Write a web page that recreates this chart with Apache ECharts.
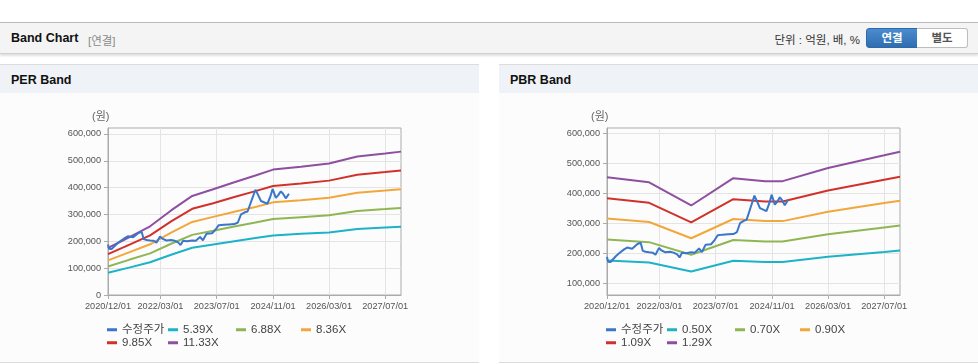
<!DOCTYPE html>
<html>
<head>
<meta charset="utf-8">
<script src="https://cdn.jsdelivr.net/npm/echarts@6/dist/echarts.min.js"></script>
<style>
  html, body { margin: 0; padding: 0; background: #fff; }
  body { width: 978px; height: 364px; position: relative; overflow: hidden;
         font-family: "Liberation Sans", "Noto Sans CJK KR", sans-serif; }
  .topbar { position: absolute; left: 0; top: 22px; width: 978px; height: 30px;
            background: #f4f4f4; border-top: 1px solid #b9b9b9; border-bottom: 1px solid #cfcfcf;
            box-shadow: 0 2px 2px rgba(0,0,0,0.12); }
  .topbar .title { position: absolute; left: 11px; top: 8px; font-size: 12.5px; font-weight: bold; color: #111; }
  .topbar .sub { position: absolute; left: 88px; top: 9px; font-size: 11.5px; color: #8a8a8a; }
  .topbar .unit { position: absolute; right: 118px; top: 8px; font-size: 11.5px; color: #333; }
  .btn { position: absolute; top: 5px; height: 18px; width: 50px; font-size: 11.5px; font-weight: bold;
         text-align: center; line-height: 18px; }
  .btn.on { left: 866px; background: linear-gradient(#4a8ccf, #2f6db0); color: #fff;
            border: 1px solid #2d69a8; border-radius: 3px 0 0 3px; width: 50px; }
  .btn.off { left: 917px; background: #fff; color: #555; border: 1px solid #bdbdbd;
             border-left: none; border-radius: 0 3px 3px 0; }
  .panel { position: absolute; top: 64px; width: 479px; height: 297px; background: #fcfcfc;
           border-top: 1px solid #dcdcdc; border-bottom: 1px solid #dcdcdc; }
  .panel .head { height: 28px; background: #eff2f7; font-size: 12.5px; font-weight: bold; color: #111;
                 line-height: 30px; padding-left: 11px; }
  .panel .chart { position: absolute; left: 0; top: 28px; width: 479px; height: 269px; }
</style>
</head>
<body>
<div class="topbar">
  <div class="title">Band Chart</div>
  <div class="sub">[연결]</div>
  <div class="unit">단위 : 억원, 배, %</div>
  <div class="btn on">연결</div>
  <div class="btn off">별도</div>
</div>
<div class="panel" style="left:0">
  <div class="head">PER Band</div>
  <div class="chart" id="per"></div>
</div>
<div class="panel" style="left:499px">
  <div class="head">PBR Band</div>
  <div class="chart" id="pbr"></div>
</div>
<script>
// 수정주가 (원)
const priceDates = [
  '2020-12-01', '2020-12-10', '2021-01-01', '2021-01-16', '2021-02-15', '2021-03-16',
  '2021-04-28', '2021-05-25', '2021-07-07', '2021-08-22', '2021-09-19', '2021-10-07',
  '2021-11-01', '2021-12-01', '2022-01-01', '2022-01-25', '2022-02-07', '2022-02-25',
  '2022-03-16', '2022-04-22', '2022-06-01', '2022-07-01', '2022-08-01', '2022-08-22',
  '2022-09-13', '2022-10-16', '2022-12-01', '2023-01-01', '2023-02-07', '2023-03-04',
  '2023-04-04', '2023-05-22', '2023-06-22', '2023-07-19', '2023-09-01', '2023-10-16',
  '2023-12-01', '2024-01-01', '2024-01-28', '2024-03-01', '2024-03-25', '2024-04-07',
  '2024-05-01', '2024-06-01', '2024-06-25', '2024-07-19', '2024-09-13', '2024-10-07',
  '2024-10-28', '2024-11-25', '2024-12-13', '2025-01-07', '2025-01-25', '2025-02-19',
  '2025-03-19'
]
const priceValues = [
  188000, 172000, 171000, 174000, 190000, 200000,
  213000, 219000, 215000, 231000, 235000, 208000,
  205000, 203000, 202000, 195000, 192000, 218000,
  210000, 203000, 205000, 202000, 196000, 186000,
  202000, 200000, 203000, 202000, 216000, 204000,
  228000, 230000, 244000, 260000, 262000, 263000,
  264000, 270000, 300000, 308000, 311000, 312000,
  355000, 392000, 372000, 350000, 340000, 365000,
  395000, 362000, 370000, 386000, 378000, 360000,
  377000
]

// PER 밴드
const perNames = ['5.39X', '6.88X', '8.36X', '9.85X', '11.33X']
const perDates = [
  '2020-12-01', '2021-06-01', '2021-12-01', '2022-06-01', '2022-12-01', '2023-06-01', '2023-12-01',
  '2024-06-01', '2024-11-01', '2025-07-01', '2026-03-01', '2026-11-01', '2027-07-01', '2027-11-15'
]
const per539 = [83000, 102000, 122000, 150000, 176000, 188000, 200000, 212000, 222000, 228000, 233000, 246000, 251000, 254000]
const per688 = [106000, 131000, 155000, 191000, 224000, 239000, 255000, 270000, 283000, 290000, 297000, 313000, 320000, 324000]
const per836 = [129000, 159000, 189000, 232000, 272000, 291000, 310000, 328000, 345000, 353000, 362000, 381000, 389000, 394000]
const per985 = [152000, 187000, 222000, 274000, 321000, 342000, 365000, 387000, 406000, 415000, 426000, 448000, 458000, 464000]
const per1133 = [175000, 215000, 256000, 315000, 369000, 394000, 420000, 445000, 467000, 478000, 490000, 516000, 527000, 534000]

// PBR 밴드
const pbrNames = ['0.50X', '0.70X', '0.90X', '1.09X', '1.29X']
const pbrDates = [
  '2020-12-01', '2021-12-01', '2022-12-01', '2023-12-01', '2024-09-01',
  '2025-02-01', '2026-03-01', '2027-07-01', '2027-11-15'
]
const pbr050 = [176000, 169000, 139000, 175000, 171000, 171000, 188000, 204000, 209000]
const pbr070 = [246000, 237000, 195000, 244000, 239000, 239000, 263000, 286000, 292000]
const pbr090 = [316000, 304000, 250000, 314000, 307000, 307000, 338000, 367000, 375000]
const pbr109 = [383000, 368000, 303000, 380000, 372000, 372000, 409000, 445000, 455000]
const pbr129 = [453000, 436000, 359000, 450000, 440000, 440000, 484000, 526000, 538000]

// 축 눈금
const xTickDates = ['2020-12-01', '2022-03-01', '2023-07-01', '2024-11-01', '2026-03-01', '2027-07-01']
const perYTicks = [0, 100000, 200000, 300000, 400000, 500000, 600000]
const pbrYTicks = [100000, 200000, 300000, 400000, 500000, 600000]

const bandColors = ['#1cb2c8', '#8fb653', '#f2a73b', '#d2312b', '#8f4fa0']
const priceColor = '#3a76c9'
const FONT = '"Liberation Sans", "Noto Sans CJK KR", sans-serif'

const toTime = (s) => {
  const [y, m, d] = s.split('-').map(Number)
  return Date.UTC(y, m - 1, d)
}
const pad = (n) => (n < 10 ? '0' + n : '' + n)
const fmtDate = (v) => {
  const d = new Date(v)
  return d.getUTCFullYear() + '/' + pad(d.getUTCMonth() + 1) + '/' + pad(d.getUTCDate())
}
const fmtNum = (v) => String(v).replace(/\B(?=(\d{3})+(?!\d))/g, ',')

// 범례 위치 (열 × 행, 행은 중심 y)
const legendPos = [[107, 237], [168, 237], [236, 237], [301, 237], [107, 250], [168, 250]]

function buildOption(names, dates, bands, yMin, yMax, yTicks) {
  const xTicks = xTickDates.map(toTime)
  const series = bands.map((vals, i) => ({
    name: names[i],
    type: 'line',
    data: dates.map((d, j) => [toTime(d), vals[j]]),
    showSymbol: false,
    lineStyle: { width: 2, color: bandColors[i] },
    itemStyle: { color: bandColors[i] },
    emphasis: { disabled: true }
  }))
  series.push({
    name: '수정주가',
    type: 'line',
    data: priceDates.map((d, j) => [toTime(d), priceValues[j]]),
    showSymbol: false,
    lineStyle: { width: 2, color: priceColor },
    itemStyle: { color: priceColor },
    emphasis: { disabled: true },
    z: 5
  })

  const allNames = ['수정주가'].concat(names)
  const legend = allNames.map((n, i) => ({
    data: [n],
    left: legendPos[i][0],
    top: legendPos[i][1] - 6,
    padding: 0,
    icon: 'rect',
    itemWidth: 10,
    itemHeight: 3,
    selectedMode: false,
    textStyle: { fontSize: 11.5, color: '#444', fontFamily: FONT }
  }))

  return {
    animation: false,
    textStyle: { fontFamily: FONT },
    grid: { left: 108, right: 78, top: 35, bottom: 67, show: true, borderColor: '#ababab', borderWidth: 1 },
    legend,
    graphic: [{
      type: 'text', left: 92, top: 18,
      style: { text: '(원)', fontSize: 11, fill: '#666', fontFamily: FONT }
    }],
    xAxis: {
      type: 'value',
      min: toTime('2020-12-01'),
      max: toTime('2027-11-15'),
      axisLine: { lineStyle: { color: '#ababab' } },
      axisTick: { show: true, length: 4, customValues: xTicks, lineStyle: { color: '#ababab' } },
      axisLabel: { customValues: xTicks, formatter: fmtDate, fontSize: 9.2, color: '#555', margin: 7 },
      splitLine: { show: true, lineStyle: { color: '#e4e4e4' } }
    },
    yAxis: {
      type: 'value',
      min: yMin,
      max: yMax,
      axisLine: { show: true, lineStyle: { color: '#ababab' } },
      axisTick: { show: true, length: 4, customValues: yTicks, lineStyle: { color: '#ababab' } },
      axisLabel: { customValues: yTicks, formatter: fmtNum, fontSize: 9.2, color: '#555', margin: 7 },
      splitLine: { show: true, lineStyle: { color: '#e4e4e4' } }
    },
    series
  }
}

const perChart = echarts.init(document.getElementById('per'))
perChart.setOption(buildOption(perNames, perDates, [per539, per688, per836, per985, per1133], 0, 622000, perYTicks))

const pbrChart = echarts.init(document.getElementById('pbr'))
pbrChart.setOption(buildOption(pbrNames, pbrDates, [pbr050, pbr070, pbr090, pbr109, pbr129], 61000, 617000, pbrYTicks))
</script>
</body>
</html>
